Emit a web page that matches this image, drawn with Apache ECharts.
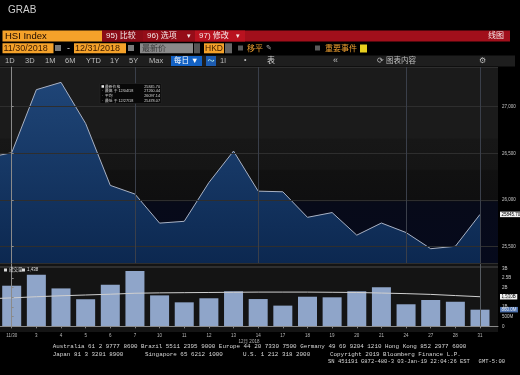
<!DOCTYPE html>
<html><head><meta charset="utf-8">
<script src="https://cdn.jsdelivr.net/npm/echarts@6/dist/echarts.min.js"></script>
<style>html,body{margin:0;padding:0;background:#000;}#c{width:520px;height:375px;}</style>
</head><body><div id="c"></div>
<script>
// ---- data ----
const dates = ['11/29/2018','11/30/2018','12/03/2018','12/04/2018','12/05/2018','12/06/2018','12/07/2018','12/10/2018','12/11/2018','12/12/2018','12/13/2018','12/14/2018','12/17/2018','12/18/2018','12/19/2018','12/20/2018','12/21/2018','12/24/2018','12/27/2018','12/28/2018','12/31/2018'];
const closes = [26451.80,26506.75,27182.04,27260.44,26819.68,26156.38,26063.76,25752.38,25771.66,26186.71,26524.35,26094.79,26087.98,25814.25,25865.39,25623.49,25753.42,25651.38,25478.07,25504.20,25845.70];
const volumes = [null,2.10,2.67,1.96,1.40,2.15,2.86,1.60,1.24,1.45,1.81,1.41,1.07,1.53,1.50,1.81,2.02,1.14,1.36,1.27,0.86]; // billions
const volumeAvg = [1.42,1.47,1.53,1.58,1.62,1.66,1.71,1.73,1.74,1.75,1.76,1.77,1.77,1.77,1.76,1.75,1.72,1.69,1.65,1.59,1.53];
const tickLabels = ['','11/30','3','4','5','6','7','10','11','12','13','14','17','18','19','20','21','24','27','28','31'];
const monthLabel = '12月 2018';
const weekLines = ['11/30/2018','12/07/2018','12/14/2018','12/24/2018','12/31/2018'];

// ---- derived ----
const pos = i => i - 1;
const shown = closes.slice(1), shownDates = dates.slice(1);
const last = shown[shown.length-1];
const hi = Math.max(...shown), lo = Math.min(...shown);
const avg = shown.reduce((a,b)=>a+b,0)/shown.length;
const shortDate = d => d.slice(0,6)+d.slice(8);
const hiDate = shortDate(shownDates[shown.indexOf(hi)]);
const loDate = shortDate(shownDates[shown.indexOf(lo)]);
const fmtVol = v => v===0 ? '0' : (v<1 ? (v*1000).toFixed(0)+'M' : (+v.toFixed(2))+'B');
const fmtVolBox = v => v<1 ? (v*1000).toFixed(1)+'M' : v.toFixed(3)+'B';
const lastIdx = pos(dates.length-1);

const SANS = "'Liberation Sans', 'Noto Sans CJK SC', sans-serif";
const MONO = "'Liberation Mono', 'DejaVu Sans Mono', monospace";

const chart = echarts.init(document.getElementById('c'), null, {renderer:'canvas'});

function T(x,y,text,opt){ return Object.assign({type:'text', x:x, y:y, z:50, style:Object.assign({text:text, fill:'#ccc', font:'8px '+SANS, textVerticalAlign:'middle'}, opt||{})}); }
function R(x,y,w,h,fill,z){ return {type:'rect', shape:{x:x,y:y,width:w,height:h}, style:{fill:fill}, z:(z===undefined?40:z)}; }
const LG = {font:'3.8px '+SANS, fill:'#dcdcdc'};

const graphics = [
  // main plot background bands
  {type:'rect', shape:{x:0,y:67,width:498,height:196}, z:-5, silent:true,
   style:{fill:new echarts.graphic.LinearGradient(0,0,0,1,[
     {offset:0,color:'#1b1b1b'},{offset:0.36,color:'#1b1b1b'},{offset:0.37,color:'#171717'},
     {offset:0.52,color:'#151515'},{offset:0.53,color:'#111111'},{offset:0.68,color:'#0f0f10'},
     {offset:0.69,color:'#070a19'},{offset:1,color:'#060a1c'}])}},
  // volume panel background
  {type:'rect', shape:{x:0,y:263,width:498,height:69}, z:-5, silent:true, style:{fill:'#141414'}},
  {type:'line', shape:{x1:0,y1:263.5,x2:498,y2:263.5}, z:-4, style:{stroke:'#3a3a3a', lineWidth:1}},
  {type:'line', shape:{x1:0,y1:267,x2:498,y2:267}, z:-4, style:{stroke:'#4a4a4a', lineWidth:1}},

  // top title
  T(8,10,'GRAB',{font:'10px '+SANS, fill:'#cfcfcf'}),
  // row 1
  R(2.5,30.5,99.5,11,'#f5a22a'),
  T(5,36.2,'HSI Index',{font:'9.5px '+SANS, fill:'#1a0800'}),
  R(102,30.5,408,11,'#a10f1b'),
  R(102,30.5,41,11,'#8a0c16'),
  R(143,30.5,52,11,'#950d18'),
  R(195,30.5,50,11,'#b9121f'),
  T(106,36.2,'95) 比较',{font:'8px '+SANS, fill:'#f4e8e8'}),
  T(147,36.2,'96) 选项',{font:'8px '+SANS, fill:'#f4e8e8'}),
  T(187,36.5,'▾',{font:'7px '+SANS, fill:'#f4e8e8'}),
  T(199,36.2,'97) 修改',{font:'8px '+SANS, fill:'#f4e8e8'}),
  T(236,36.5,'▾',{font:'7px '+SANS, fill:'#f4e8e8'}),
  T(488,36.2,'线图',{font:'8px '+SANS, fill:'#f4e8e8'}),
  // row 2
  R(2.5,43.3,51,10,'#f5a22a'),
  T(3.5,48.5,'11/30/2018',{font:'9px '+SANS, fill:'#3a1a00'}),
  R(55,45,6,6,'#7a7a7a'),
  T(67,48.3,'-',{font:'9px '+SANS, fill:'#ddd'}),
  R(74,43.3,52,10,'#f5a22a'),
  T(75,48.5,'12/31/2018',{font:'9px '+SANS, fill:'#3a1a00'}),
  R(128,45,6,6,'#7a7a7a'),
  R(140,43.3,53,10,'#8a8a8a'),
  T(142,48.5,'最新价',{font:'8px '+SANS, fill:'#3a3a3a'}),
  R(194,43.3,6,10,'#555'),
  R(204,43.3,20,10,'#f5a22a'),
  T(205,48.5,'HKD',{font:'8.5px '+SANS, fill:'#3a1a00'}),
  R(225,43.3,7,10,'#666'),
  R(238,45.5,5,5,'#5a5a5a'),
  T(247,48.5,'移平',{font:'8px '+SANS, fill:'#f0a030'}),
  T(266,48.5,'✎',{font:'7px '+SANS, fill:'#aaa'}),
  R(315,45.5,5,5,'#5a5a5a'),
  T(325,48.5,'重要事件',{font:'8px '+SANS, fill:'#f0a030'}),
  R(360,44.5,7,8,'#e8cf1e'),
  // row 3
  R(0,55.5,515,11,'#1e1e1e',39),
  T(5,61,'1D',{font:'7.5px '+SANS, fill:'#bdbdbd'}),
  T(25,61,'3D',{font:'7.5px '+SANS, fill:'#bdbdbd'}),
  T(45,61,'1M',{font:'7.5px '+SANS, fill:'#bdbdbd'}),
  T(65,61,'6M',{font:'7.5px '+SANS, fill:'#bdbdbd'}),
  T(86,61,'YTD',{font:'7.5px '+SANS, fill:'#bdbdbd'}),
  T(110,61,'1Y',{font:'7.5px '+SANS, fill:'#bdbdbd'}),
  T(129,61,'5Y',{font:'7.5px '+SANS, fill:'#bdbdbd'}),
  T(149,61,'Max',{font:'7.5px '+SANS, fill:'#bdbdbd'}),
  R(171,56,31,10,'#1462c4'),
  T(174,61,'每日 ▼',{font:'7.5px '+SANS, fill:'#fff'}),
  R(206,56,10,10,'#1d5cb0'),
  T(207.5,61,'〜',{font:'7px '+SANS, fill:'#cfe'}),
  T(220,61,'1l',{font:'7.5px '+SANS, fill:'#bdbdbd'}),
  T(244,60.5,'•',{font:'7px '+SANS, fill:'#bdbdbd'}),
  T(267,61,'表',{font:'8px '+SANS, fill:'#d0d0d0'}),
  T(333,61,'«',{font:'9px '+SANS, fill:'#bdbdbd'}),
  T(377,61,'⟳ 图表内容',{font:'7.5px '+SANS, fill:'#bdbdbd'}),
  T(479,61,'⚙',{font:'8px '+SANS, fill:'#bdbdbd'}),

  // legend box (main)
  {type:'rect', shape:{x:100,y:83.5,width:61,height:20}, z:30, style:{fill:'#080808', stroke:'#2a2a2a', lineWidth:0.5}},
  R(101.5,85.2,2.5,2.5,'#eeeeee',31),
  T(105,86.5,'最新价格',LG),
  T(160,86.5,last.toFixed(2),Object.assign({textAlign:'right'},LG)),
  T(102,91.2,'·',LG),
  T(105,91.2,'最高 于 '+hiDate,LG),
  T(160,91.2,hi.toFixed(2),Object.assign({textAlign:'right'},LG)),
  T(102,95.9,'·',LG),
  T(105,95.9,'平均',LG),
  T(160,95.9,avg.toFixed(2),Object.assign({textAlign:'right'},LG)),
  T(102,100.6,'·',LG),
  T(105,100.6,'最低 于 '+loDate,LG),
  T(160,100.6,lo.toFixed(2),Object.assign({textAlign:'right'},LG)),

  // volume legend
  R(4,268.5,3,3,'#dddddd',31),
  T(9,270,'成交量',{font:'4.5px '+SANS, fill:'#ddd'}),
  R(22,268.5,3,3,'#dddddd',31),
  T(27,270,'1,438',{font:'4.5px '+SANS, fill:'#ddd'}),

  // footer
  T(52.7,346.5,'Australia 61 2 9777 8600 Brazil 5511 2395 9000 Europe 44 20 7330 7500 Germany 49 69 9204 1210 Hong Kong 852 2977 6000',{font:'5.9px '+MONO, fill:'#d8d8d8'}),
  T(52.7,354,'Japan 81 3 3201 8900',{font:'5.9px '+MONO, fill:'#d8d8d8'}),
  T(145,354,'Singapore 65 6212 1000',{font:'5.9px '+MONO, fill:'#d8d8d8'}),
  T(243,354,'U.S. 1 212 318 2000',{font:'5.9px '+MONO, fill:'#d8d8d8'}),
  T(330,354,'Copyright 2019 Bloomberg Finance L.P.',{font:'5.9px '+MONO, fill:'#d8d8d8'}),
  T(328,361.7,'SN 451191 G872-480-3 03-Jan-19 22:04:26 EST',{font:'5.5px '+MONO, fill:'#d8d8d8'}),
  T(505,361.7,'GMT-5:00',{font:'5.5px '+MONO, fill:'#d8d8d8', textAlign:'right'})
];

const xMin = -0.475, xMax = 19.73;
const idxValues = tickLabels.map((t,i)=>pos(i)).filter(v=>v>=0);
const hiddenLine = {color:'rgba(0,0,0,0)', width:0};

const option = {
  animation:false,
  backgroundColor:'#000',
  grid:[
    {left:0, top:67, width:498, height:196},
    {left:0, top:264, width:498, height:62.3}
  ],
  xAxis:[
    {type:'value', gridIndex:0, min:xMin, max:xMax, show:false, splitLine:{show:false}},
    {type:'value', gridIndex:1, min:xMin, max:xMax, splitNumber:20, offset:5.5, z:5,
     axisLine:{show:true, lineStyle:{color:'#8a8a8a', width:1}},
     axisTick:{show:true, length:2, lineStyle:{color:'#8a8a8a'}, customValues: idxValues},
     axisLabel:{show:true, color:'#b8b8b8', fontSize:4.5, margin:2, fontFamily:SANS, customValues: idxValues,
       formatter: v => (Number.isInteger(v) && v>=0) ? tickLabels[v+1] : ''},
     splitLine:{show:false},
     name: monthLabel, nameLocation:'middle', nameGap:8,
     nameTextStyle:{color:'#b8b8b8', fontSize:4.5, fontFamily:SANS}}
  ],
  yAxis:[
    {type:'value', gridIndex:0, position:'right', min:25325, max:27425, splitNumber:4, z:5,
     axisLine:{show:true, lineStyle:{color:'#8a8a8a'}},
     axisTick:{show:true, length:2, lineStyle:{color:'#8a8a8a'}},
     axisLabel:{color:'#c8c8c8', fontSize:4.5, margin:4, fontFamily:SANS, showMinLabel:false, showMaxLabel:false},
     splitLine:{show:true, lineStyle:{color:'#2e2e2e', width:1}}},
    {type:'value', gridIndex:1, position:'right', min:0, max:3.223, splitNumber:6, z:5,
     axisLine:{show:true, lineStyle:{color:'#8a8a8a'}},
     axisTick:{show:true, length:2, lineStyle:{color:'#8a8a8a'}},
     axisLabel:{color:'#c8c8c8', fontSize:4.5, margin:4, fontFamily:SANS, showMaxLabel:false, formatter: fmtVol},
     splitLine:{show:false}}
  ],
  series:[
    {type:'line', xAxisIndex:0, yAxisIndex:0, symbol:'none', clip:true, z:2,
     data: closes.map((v,i)=>[pos(i), v]),
     lineStyle:{color:'#a9b2c4', width:1},
     areaStyle:{color:new echarts.graphic.LinearGradient(0,0,0,1,[{offset:0,color:'#1f4577'},{offset:1,color:'#0c2850'}]), opacity:1},
     markLine:{symbol:'none', silent:true, animation:false,
       data:[
         ...weekLines.map(d=>({xAxis: pos(dates.indexOf(d)), lineStyle:{color:'#3a3f4a', width:1, type:'solid'}, label:{show:false}})),
         {yAxis:last, lineStyle:hiddenLine, label:{show:true, position:'end', distance:2, formatter:p=>(+p.value).toFixed(2),
           backgroundColor:'#f2f2f2', color:'#000', fontSize:4.5, padding:[0.5,1.5], fontFamily:SANS}}
       ]}},
    {type:'bar', xAxisIndex:1, yAxisIndex:1, barWidth:19, z:3,
     data: volumes.map((v,i)=>[pos(i), v]),
     itemStyle:{color:'#8fa5c9'}},
    {type:'line', xAxisIndex:1, yAxisIndex:1, symbol:'none', z:4, clip:true,
     data: volumeAvg.map((v,i)=>[pos(i), v]),
     lineStyle:{color:'#cfcfcf', width:1},
     markLine:{symbol:'none', silent:true, animation:false,
       data:[
         {xAxis:lastIdx, lineStyle:{color:'#555a60', width:1, type:'solid'}, label:{show:false}},
         {yAxis:volumeAvg[volumeAvg.length-1], lineStyle:hiddenLine, label:{show:true, position:'end', distance:2, formatter:p=>fmtVolBox(+p.value),
           backgroundColor:'#f2f2f2', color:'#000', fontSize:4.5, padding:[0.5,1.5], fontFamily:SANS}},
         {yAxis:volumes[volumes.length-1], lineStyle:hiddenLine, label:{show:true, position:'end', distance:2, formatter:p=>fmtVolBox(+p.value),
           backgroundColor:'#4f72ad', color:'#e8eef8', fontSize:4.5, padding:[0.5,1.5], fontFamily:SANS}}
       ]}}
  ],
  graphic: graphics
};
chart.setOption(option);
</script>
</body></html>
